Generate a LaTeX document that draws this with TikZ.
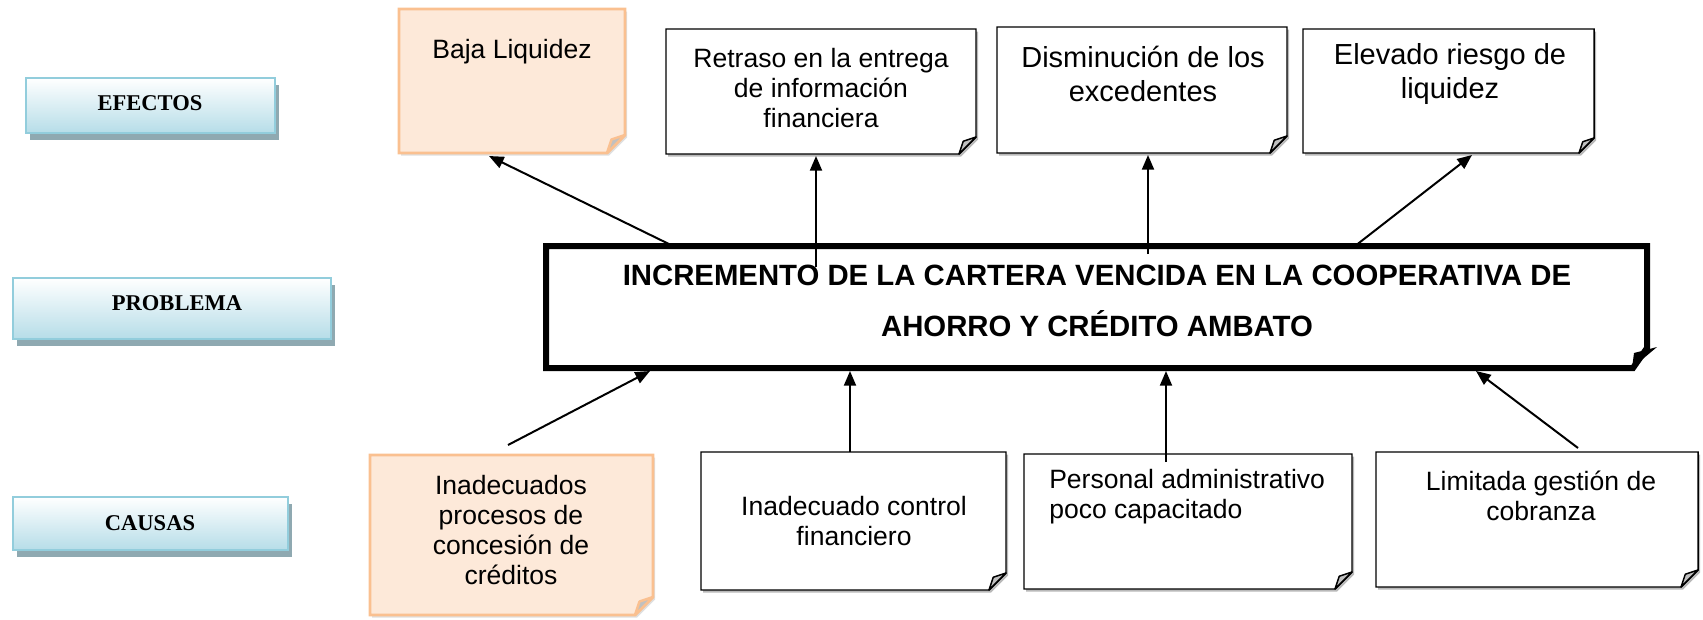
\documentclass[tikz,border=0pt]{standalone}
\usepackage{fontspec}
\setmainfont{Liberation Sans}
\newfontfamily\timesf{Liberation Serif}
\usetikzlibrary{arrows.meta,fit}
\definecolor{orfill}{HTML}{FDE9D9}
\definecolor{ordraw}{HTML}{FAC090}
\definecolor{labbot}{HTML}{B6DDE8}
\definecolor{labdraw}{HTML}{92CDDC}
\definecolor{labshad}{HTML}{8FA9B1}
\definecolor{flapgray}{HTML}{C0C0C0}
% #1 name, #2 x1, #3 y1, #4 x2, #5 y2, #6 fold, #7 box style, #8 flap style, #9 shadow style
\newcommand{\notebox}[9]{%
  \fill[#9] ({#2+2},{#3+2.5}) -- ({#4+2},{#3+2.5}) -- ({#4+2},{#5-#6+2.5}) -- ({#4-#6+2},{#5+2.5}) -- ({#2+2},{#5+2.5}) -- cycle;
  \draw[#7] (#2,#3) -- (#4,#3) -- (#4,{#5-#6}) -- ({#4-#6},#5) -- (#2,#5) -- cycle;
  \draw[#8] ({#4-#6},#5) -- ({#4-0.75*#6},{#5-0.75*#6}) -- (#4,{#5-#6}) -- cycle;
  \node[shapebox, fit={(#2,#3) (#4,#5)}] (#1) {};
}
\newcommand{\labelbox}[5]{%
  \fill[labshad] ({#2+4},{#3+7}) rectangle ({#4+4},{#5+7});
  \draw[draw=labdraw, line width=1.8pt, top color=white, bottom color=labbot] (#2,#3) rectangle (#4,#5);
  \node[shapebox, fit={(#2,#3) (#4,#5)}] (#1) {};
}
\begin{document}
\begin{tikzpicture}[x=0.75pt,y=-0.75pt,
  shapebox/.style={inner sep=0pt, draw=none},
  notew/.style={draw=black, line width=1.1pt, fill=white, line join=miter},
  noteo/.style={draw=ordraw, line width=2.2pt, fill=orfill, line join=miter},
  shadw/.style={fill=gray!55},
  shado/.style={fill=gray!25},
  flapw/.style={draw=black, line width=1.1pt, fill=flapgray, line join=round},
  flapo/.style={draw=ordraw, line width=1.8pt, fill=flapgray, line join=round},
  txt/.style={align=center, inner sep=0pt, font=\fontsize{19.9}{22.5}\selectfont},
  txtb/.style={align=center, inner sep=0pt, font=\fontsize{21.75}{25.5}\selectfont},
  ttl/.style={align=center, inner sep=0pt, font=\bfseries\fontsize{22}{38.25}\selectfont},
  labtxt/.style={inner sep=0pt, font=\timesf\bfseries\fontsize{16.9}{20}\selectfont},
  arr/.style={line width=1.5pt, -{Triangle[length=11pt,width=9pt]}}
]
\useasboundingbox (0,0) rectangle (1703,619);

% left labels
\labelbox{lef}{26}{78}{275}{133}
\labelbox{lpr}{13}{278}{331}{339}
\labelbox{lca}{13}{497}{288}{550}
\node[labtxt] (tef) at (150,103) {EFECTOS};
\node[labtxt] (tpr) at (177,303) {PROBLEMA};
\node[labtxt] (tca) at (150,523) {CAUSAS};

% effects
\notebox{e1}{399}{9}{625}{153}{18}{noteo}{flapo}{shado}
\notebox{e2}{666}{29}{976}{154}{17}{notew}{flapw}{shadw}
\notebox{e3}{997}{27}{1287}{153}{17}{notew}{flapw}{shadw}
\notebox{e4}{1303}{29}{1594}{153}{15}{notew}{flapw}{shadw}
\node[txt] (te1) at (512,52) {Baja Liquidez};
\node[txt] (te2) at (821,88) {Retraso en la entrega\\de información\\financiera};
\node[txtb] (te3) at (1143,74) {Disminución de los\\excedentes};
\node[txtb] (te4) at (1450,74) {Elevado riesgo de\\liquidez};

% problem
\draw[line width=4.5pt, line join=miter, fill=white] (546,246) -- (1647,246) -- (1647,348) -- (1633,368) -- (546,368) -- cycle;
\fill (1632,368) -- (1634,353) -- (1657,347) -- cycle;
\node[shapebox, fit={(546,246) (1647,368)}] (main) {};
\node[ttl] (tm) at (1097,301) {INCREMENTO DE LA CARTERA VENCIDA EN LA COOPERATIVA DE\\AHORRO Y CRÉDITO AMBATO};

% causes
\notebox{c1}{370}{455}{653}{615}{18}{noteo}{flapo}{shado}
\notebox{c2}{701}{452}{1006}{590}{17}{notew}{flapw}{shadw}
\notebox{c3}{1024}{454}{1352}{589}{17}{notew}{flapw}{shadw}
\notebox{c4}{1376}{452}{1698}{587}{17}{notew}{flapw}{shadw}
\node[txt] (tc1) at (511,530) {Inadecuados\\procesos de\\concesión de\\créditos};
\node[txt] (tc2) at (854,521) {Inadecuado control\\financiero};
\node[txt, align=left, anchor=west] (tc3) at (1049,497) {Personal administrativo\\poco capacitado};
\node[txt] (tc4) at (1541,496) {Limitada gestión de\\cobranza};

% connector end points
\coordinate (a1s) at (673,246); \coordinate (a1e) at (489,156);
\coordinate (a2s) at (816,267); \coordinate (a2e) at (816,156);
\coordinate (a3s) at (1148,254); \coordinate (a3e) at (1148,155);
\coordinate (a4s) at (1355,246); \coordinate (a4e) at (1472,155);
\coordinate (a5s) at (508,445); \coordinate (a5e) at (650,371);
\coordinate (a6s) at (850,452); \coordinate (a6e) at (850,371);
\coordinate (a7s) at (1166,462); \coordinate (a7e) at (1166,371);
\coordinate (a8s) at (1578,448); \coordinate (a8e) at (1476,371);
\draw[arr] (a1s) -- (a1e);
\draw[arr] (a2s) -- (a2e);
\draw[arr] (a3s) -- (a3e);
\draw[arr] (a4s) -- (a4e);
\draw[arr] (a5s) -- (a5e);
\draw[arr] (a6s) -- (a6e);
\draw[arr] (a7s) -- (a7e);
\draw[arr] (a8s) -- (a8e);
\end{tikzpicture}
\end{document}
